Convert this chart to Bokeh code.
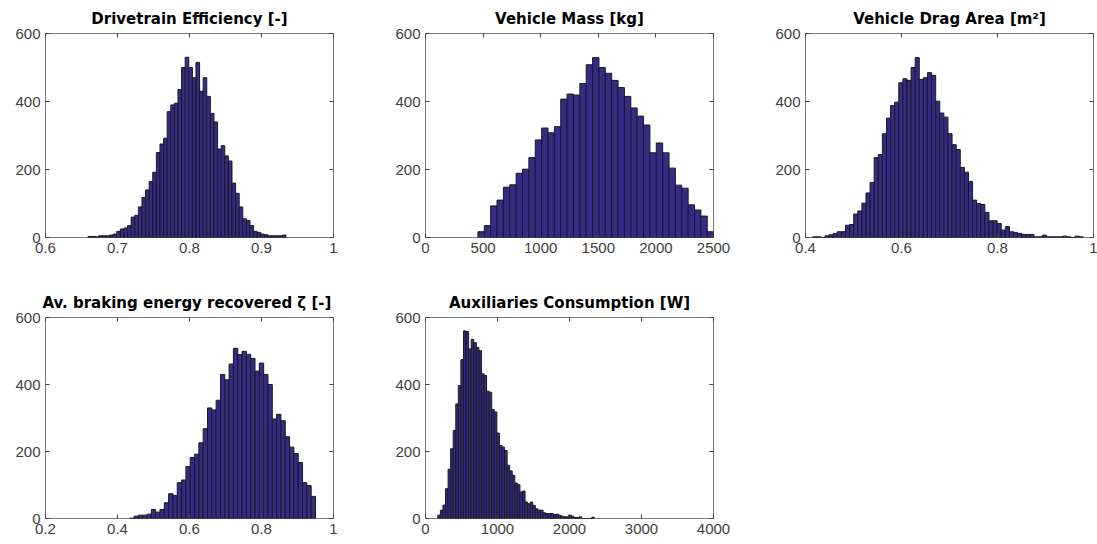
from bokeh.plotting import figure
from bokeh.layouts import column, row
from bokeh.models import FixedTicker, LinearAxis, Range1d
from bokeh.embed import file_html
from bokeh.resources import INLINE

# ---------------- data ----------------
eff_start, eff_width = 0.659, 0.005
eff_counts = [3, 3, 2, 5, 5, 5, 7, 10, 18, 25,
              28, 35, 60, 65, 90, 118, 140, 165, 192, 250,
              275, 292, 370, 390, 395, 435, 500, 530, 500, 470,
              515, 430, 470, 415, 365, 340, 260, 270, 240, 225,
              160, 130, 90, 55, 50, 35, 18, 15, 10, 8,
              5, 5, 5, 5, 7]

mass_start, mass_width = 455, 55.3
mass_counts = [17, 35, 93, 110, 148, 155, 189, 201, 235, 287,
               322, 308, 326, 407, 422, 419, 453, 508, 529, 500,
               483, 462, 441, 415, 381, 357, 331, 249, 278, 249,
               204, 154, 145, 96, 81, 63, 17]

drag_start, drag_width = 0.415, 0.00854
drag_counts = [2, 2, 0, 5, 8, 12, 17, 17, 36, 38,
               69, 78, 101, 131, 162, 235, 244, 305, 351, 388,
               398, 455, 467, 462, 500, 529, 465, 470, 485, 477,
               401, 366, 354, 305, 273, 259, 206, 192, 165, 110,
               100, 97, 74, 49, 49, 41, 22, 32, 17, 15,
               12, 9, 9, 9, 2, 2, 7, 2, 2, 2,
               2, 4, 2, 0, 4, 2]

brake_start, brake_width = 0.434, 0.012
brake_counts = [1, 7, 10, 10, 13, 27, 19, 27, 47, 74,
                69, 107, 115, 155, 182, 192, 226, 268, 330, 324,
                353, 430, 414, 461, 508, 489, 499, 490, 478, 440,
                464, 430, 400, 297, 311, 292, 244, 213, 194, 167,
                107, 98, 66]

aux_start, aux_width = 171, 35.65
aux_counts = [10, 25, 40, 89, 147, 208, 263, 342, 397, 474,
              560, 558, 506, 535, 525, 511, 501, 432, 427, 380,
              377, 325, 318, 255, 218, 213, 203, 159, 142, 129,
              106, 101, 79, 82, 49, 44, 49, 39, 29, 25,
              25, 17, 15, 15, 15, 12, 13, 10, 7, 5,
              5, 10, 7, 3, 3, 5, 0, 0, 0, 0,
              4]

titles = ["Drivetrain Efficiency [-]", "Vehicle Mass [kg]", "Vehicle Drag Area [m\u00b2]",
          "Av. braking energy recovered \u03b6  [-]", "Auxiliaries Consumption [W]"]

x_ranges = [(0.6, 1.0), (0, 2500), (0.4, 1.0), (0.2, 1.0), (0, 4000)]
x_ticks = [[0.6, 0.7, 0.8, 0.9, 1.0], [0, 500, 1000, 1500, 2000, 2500],
           [0.4, 0.6, 0.8, 1.0], [0.2, 0.4, 0.6, 0.8, 1.0], [0, 1000, 2000, 3000, 4000]]
x_tick_labels = [["0.6", "0.7", "0.8", "0.9", "1"], ["0", "500", "1000", "1500", "2000", "2500"],
                 ["0.4", "0.6", "0.8", "1"], ["0.2", "0.4", "0.6", "0.8", "1"],
                 ["0", "1000", "2000", "3000", "4000"]]
y_ticks = [0, 200, 400, 600]
y_tick_labels = ["0", "200", "400", "600"]
y_max = 600

BAR_FILL = "#352A87"
BAR_LINE = "#1a1a1a"
TICK_COLOR = "#404040"
FRAME_COLOR = "#7a7a7a"
TICK_FONT = "Liberation Sans"
TITLE_FONT = "DejaVu Sans"


def make_hist(i, start, width, counts, bl, br, bt, bb, fw, fh):
    lefts = [start + width * k for k in range(len(counts))]
    rights = [start + width * (k + 1) for k in range(len(counts))]
    p = figure(frame_width=fw, frame_height=fh,
               x_range=Range1d(*x_ranges[i]), y_range=Range1d(0, y_max),
               output_backend="svg", toolbar_location=None,
               min_border_left=bl, min_border_right=br,
               min_border_top=bt, min_border_bottom=bb,
               title=titles[i])
    p.quad(left=lefts, right=rights, top=counts, bottom=0,
           fill_color=BAR_FILL, line_color=BAR_LINE, line_width=1)
    p.xgrid.visible = False
    p.ygrid.visible = False
    p.outline_line_color = FRAME_COLOR
    p.outline_line_width = 1
    p.background_fill_color = "white"
    p.border_fill_color = "white"

    p.title.text_font = TITLE_FONT
    p.title.text_font_size = "15px"
    p.title.text_font_style = "bold"
    p.title.text_color = "#000000"
    p.title.align = "center"
    p.title.standoff = 12

    xt = FixedTicker(ticks=x_ticks[i])
    yt = FixedTicker(ticks=y_ticks)
    for ax, ticks, labels in ((p.xaxis[0], x_ticks[i], x_tick_labels[i]),
                              (p.yaxis[0], y_ticks, y_tick_labels)):
        ax.ticker = FixedTicker(ticks=ticks)
        ax.major_label_overrides = {t: l for t, l in zip(ticks, labels)}
        ax.major_tick_in = 4
        ax.major_tick_out = 0
        ax.minor_tick_line_color = None
        ax.major_tick_line_color = TICK_COLOR
        ax.axis_line_color = None
        ax.major_label_text_font = TICK_FONT
        ax.major_label_text_font_size = "15px"
        ax.major_label_text_color = TICK_COLOR
        ax.major_label_standoff = 5

    # mirrored ticks (box on) without labels
    for loc, ticker in (("right", yt), ("above", xt)):
        ax = LinearAxis(ticker=ticker)
        ax.major_tick_in = 4
        ax.major_tick_out = 0
        ax.minor_tick_line_color = None
        ax.major_tick_line_color = TICK_COLOR
        ax.axis_line_color = None
        ax.major_label_text_font_size = "0px"
        ax.major_label_standoff = 0
        ax.major_label_text_color = None
        p.add_layout(ax, loc)
    return p


FW = 288
p1 = make_hist(0, eff_start, eff_width, eff_counts, 45, 47, 33, 43, FW, 204)
p2 = make_hist(1, mass_start, mass_width, mass_counts, 45, 47, 33, 43, FW, 204)
p3 = make_hist(2, drag_start, drag_width, drag_counts, 45, 4, 33, 43, FW, 204)
p4 = make_hist(3, brake_start, brake_width, brake_counts, 45, 47, 37, 26, FW, 201)
p5 = make_hist(4, aux_start, aux_width, aux_counts, 45, 47, 37, 26, FW, 201)

layout = column(row(p1, p2, p3), row(p4, p5))
open("out.html", "w").write(file_html(layout, INLINE))
